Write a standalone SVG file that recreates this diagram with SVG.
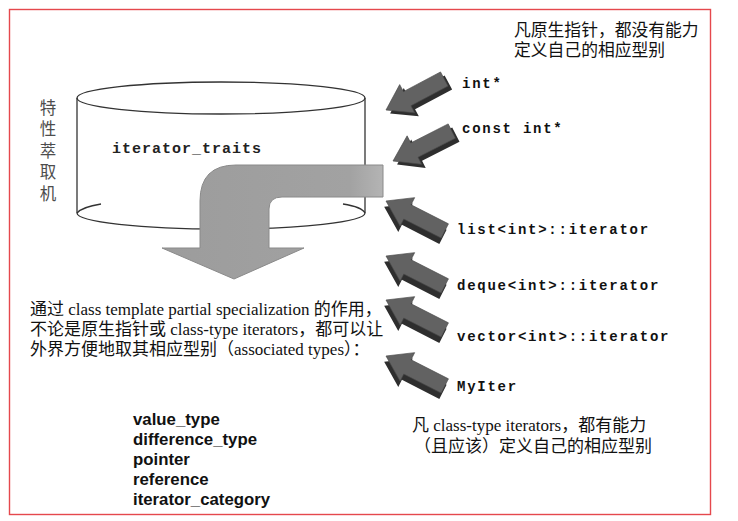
<svg xmlns="http://www.w3.org/2000/svg" width="738" height="521" viewBox="0 0 738 521">
<defs>
<style>
.frame{fill:none;stroke:#e5484d;stroke-width:1.4}
.cyl{fill:none;stroke:#333;stroke-width:1.3}
.mono{font-family:"Liberation Mono","Courier New",monospace;font-weight:bold;font-size:14px;letter-spacing:1.75px;fill:#111}
.cjk{font-family:"Noto Sans CJK SC",sans-serif;font-size:16.8px;fill:#111}
.mix{font-family:"Liberation Serif","Noto Sans CJK SC",serif;font-size:17px;fill:#111}
.fld{font-family:"Liberation Sans","DejaVu Sans",sans-serif;font-weight:bold;font-size:16.8px;fill:#111}
.vert{font-family:"Noto Sans CJK SC",sans-serif;font-size:16.5px;fill:#4d4d4d;writing-mode:vertical-rl;letter-spacing:5px}
.side{fill:#2e2e2e}
.top{fill:#626262;stroke:#4a4a4a;stroke-width:0.6}
.big{stroke:#8a8a8a;stroke-width:1}
</style>
<linearGradient id="bigfill" x1="0" y1="0" x2="1" y2="0">
<stop offset="0" stop-color="#9c9c9c"/>
<stop offset="0.85" stop-color="#a2a2a2"/>
<stop offset="1" stop-color="#b4b4b4"/>
</linearGradient>
<g id="sarrow">
<polygon class="side" points="2,5 26,-11 26,-3 68,-3 68,13 26,13 26,21"/>
<polygon class="top" points="0,0 24,-16 24,-8 66,-8 66,8 24,8 24,16"/>
</g>
<g id="sarrowUp">
<polygon class="side" points="1,6 25,-10 25,-2 67,-2 67,14 25,14 25,22"/>
<polygon class="top" points="0,0 24,-16 24,-8 66,-8 66,8 24,8 24,16"/>
</g>
</defs>
<rect width="738" height="521" fill="#fff"/>
<rect class="frame" x="9.5" y="9.5" width="701" height="505"/>

<g id="cylinder">
<ellipse class="cyl" cx="221" cy="98" rx="144" ry="16"/>
<line class="cyl" x1="77" y1="98" x2="77" y2="213"/>
<line class="cyl" x1="365" y1="98" x2="365" y2="213"/>
<path class="cyl" d="M77,213 A144,16 0 0 0 365,213"/>
<path class="cyl" d="M77,213 Q82,207 101,204"/>
<path class="cyl" d="M343,204 Q362,207 365,213"/>
<text x="112" y="153" style="font-family:'Liberation Mono','Courier New',monospace;font-size:15px;letter-spacing:1px;fill:#222;font-weight:bold">iterator_traits</text>
</g>

<g id="label-extract">
<text class="vert" x="48" y="99">特性萃取机</text>
</g>

<g id="connectors">
<path class="big" fill="url(#bigfill)" d="M383,165 L236,165 Q200,165 200,201 L200,248 L162,248 L234,279 L304,248 L269,248 L269,209 Q269,197 282,197 L383,197 Z"/>
<use href="#sarrow" transform="translate(386,110) rotate(-28)"/>
<use href="#sarrow" transform="translate(393,161) rotate(-27)"/>
<use href="#sarrowUp" transform="translate(386,201) rotate(27)"/>
<use href="#sarrowUp" transform="translate(386,256) rotate(27)"/>
<use href="#sarrowUp" transform="translate(386,300) rotate(27)"/>
<use href="#sarrowUp" transform="translate(386,356) rotate(27)"/>
</g>

<g id="note-raw">
<text class="cjk" x="514" y="36">凡原生指针，都没有能力</text>
<text class="cjk" x="514" y="56">定义自己的相应型别</text>
</g>

<g id="n-int"><text class="mono" x="462" y="88">int*</text></g>
<g id="n-constint"><text class="mono" x="462" y="133">const int*</text></g>
<g id="n-list"><text class="mono" x="457" y="234">list&lt;int&gt;::iterator</text></g>
<g id="n-deque"><text class="mono" x="457" y="290">deque&lt;int&gt;::iterator</text></g>
<g id="n-vector"><text class="mono" x="457" y="341">vector&lt;int&gt;::iterator</text></g>
<g id="n-myiter"><text class="mono" x="457" y="391">MyIter</text></g>

<g id="note-class">
<text class="mix" x="412" y="431">凡 class-type iterators，都有能力</text>
<text class="mix" x="414" y="452">（且应该）定义自己的相应型别</text>
</g>

<g id="note-main">
<text class="mix" x="30" y="315">通过 class template partial specialization 的作用，</text>
<text class="mix" x="30" y="335">不论是原生指针或 class-type iterators，都可以让</text>
<text class="mix" x="30" y="355">外界方便地取其相应型别（associated types）：</text>
</g>

<g id="types">
<text class="fld" x="133" y="425">value_type</text>
<text class="fld" x="133" y="445">difference_type</text>
<text class="fld" x="133" y="465">pointer</text>
<text class="fld" x="133" y="485">reference</text>
<text class="fld" x="133" y="505">iterator_category</text>
</g>
</svg>
